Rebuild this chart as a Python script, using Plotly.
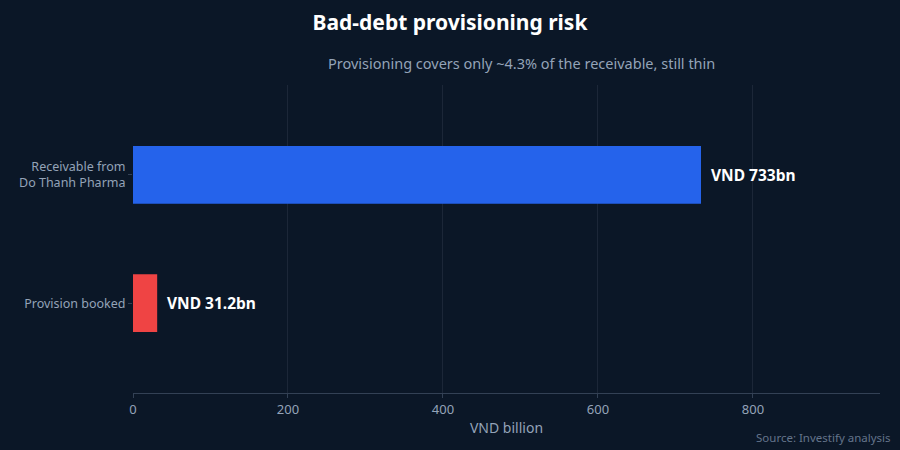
import plotly.graph_objects as go

categories = ["Receivable from<br>Do Thanh Pharma", "Provision booked"]
values = [733, 31.2]
labels = ["VND 733bn", "VND 31.2bn"]
bar_colors = ["#2563eb", "#ef4444"]

BG = "#0b1727"
MUTED = "#94a3b8"

fig = go.Figure(
    go.Bar(
        x=values,
        y=categories,
        orientation="h",
        width=0.45,
        marker={"color": bar_colors, "line": {"width": 0}},
        hoverinfo="x+y",
    )
)

# value labels placed just past the bar ends
value_notes = [
    {
        "x": v,
        "y": c,
        "xref": "x",
        "yref": "y",
        "text": f"<b>{t}</b>",
        "showarrow": False,
        "xanchor": "left",
        "yanchor": "middle",
        "xshift": 8,
        "font": {"size": 15.5, "color": "#ffffff"},
    }
    for v, c, t in zip(values, categories, labels)
]

fig.update_layout(
    width=900,
    height=450,
    paper_bgcolor=BG,
    plot_bgcolor=BG,
    font={"family": "Noto Sans, sans-serif", "size": 13, "color": MUTED},
    title={
        "text": "<b>Bad-debt provisioning risk</b>",
        "x": 0.5,
        "xanchor": "center",
        "y": 0.95,
        "yanchor": "middle",
        "font": {"size": 21, "color": "#ffffff"},
    },
    margin={"l": 133, "r": 20, "t": 85, "b": 57},
    showlegend=False,
    annotations=value_notes
    + [
        {
            "text": "Provisioning covers only ~4.3% of the receivable, still thin",
            "xref": "paper",
            "yref": "paper",
            "x": 0.52,
            "y": 1.07,
            "xanchor": "center",
            "yanchor": "middle",
            "showarrow": False,
            "font": {"size": 14.5, "color": MUTED},
        },
        {
            "text": "Source: Investify analysis",
            "xref": "paper",
            "yref": "paper",
            "x": 1.017,
            "y": -0.145,
            "xanchor": "right",
            "yanchor": "middle",
            "showarrow": False,
            "font": {"size": 11.5, "color": "#64748b"},
        },
    ],
)

fig.update_xaxes(
    range=[0, 964],
    tickvals=[0, 200, 400, 600, 800],
    showgrid=True,
    gridcolor="#1c2738",
    zeroline=False,
    showline=True,
    linecolor="#334155",
    linewidth=1,
    ticks="outside",
    ticklen=4,
    tickcolor="#334155",
    tickfont={"size": 13, "color": MUTED},
    title={"text": "VND billion", "font": {"size": 14, "color": MUTED}, "standoff": 6},
)
fig.update_yaxes(
    categoryorder="array",
    categoryarray=categories[::-1],
    range=[-0.7, 1.7],
    showgrid=False,
    zeroline=False,
    ticks="outside",
    ticklen=4,
    tickcolor="#334155",
    tickfont={"size": 12.5, "color": MUTED},
)

fig.write_html(
    "out.html",
    config={"displayModeBar": False},
    post_script="document.body.style.margin='0';document.body.style.background='#0b1727';",
)
